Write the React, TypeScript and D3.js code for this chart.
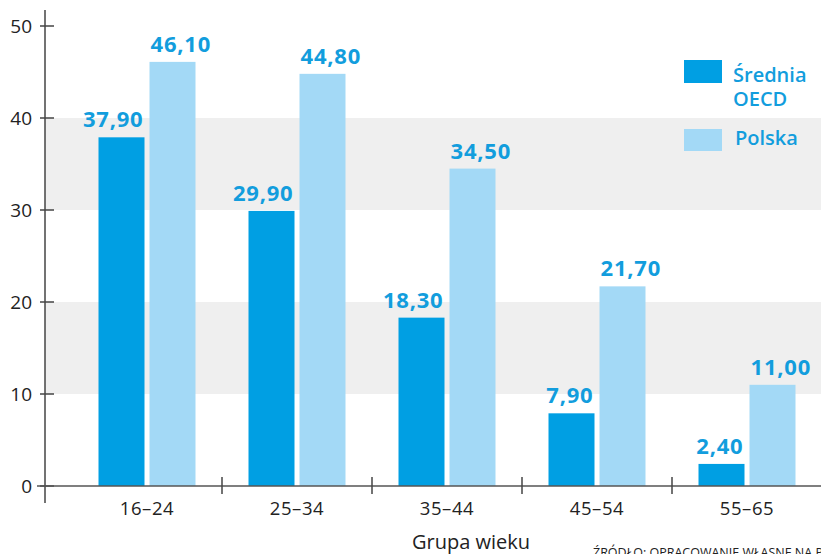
import React from "react";
import * as d3 from "d3";

const categories = ["16–24", "25–34", "35–44", "45–54", "55–65"];
const oecdValues = [37.9, 29.9, 18.3, 7.9, 2.4];
const polskaValues = [46.1, 44.8, 34.5, 21.7, 11.0];
const yTicks = [0, 10, 20, 30, 40, 50];
const seriesKeys = ["oecd", "pl"];
const seriesNames = ["Średnia OECD", "Polska"];

const W = 821;
const H = 554;
const DARK = "#009fe3";
const LIGHT = "#a3d9f6";
const LABEL = "#129ddd";
const FONT = "'Open Sans', 'Noto Sans', sans-serif";

export default function App() {
  const y = d3.scaleLinear().domain([0, 50]).range([486, 26]);
  const x0 = d3.scaleBand<string>().domain(categories).range([72, 822]).paddingInner(0).paddingOuter(0);
  const bw = 46;
  const gap = 5;
  const x1 = d3
    .scaleBand<string>()
    .domain(seriesKeys)
    .range([-(bw + gap / 2), bw + gap / 2])
    .paddingInner(gap / (bw + gap))
    .paddingOuter(0);
  const fmt = (v: number) => v.toFixed(2).replace(".", ",");
  const axisX = 45;
  const bands = [
    [30, 40],
    [10, 20],
  ];
  const boundaries = categories.slice(1).map((c) => x0(c)!);

  return (
    <svg
      width={W}
      height={H}
      style={{ position: "fixed", left: 0, top: 0, background: "#fff" }}
      fontFamily={FONT}
    >
      {bands.map(([a, b], i) => (
        <rect key={i} x={axisX} y={y(b)} width={W - axisX} height={y(a) - y(b)} fill="#efefef" />
      ))}
      {categories.map((c, i) => {
        const cx = x0(c)! + x0.bandwidth() / 2;
        const vals = [oecdValues[i], polskaValues[i]];
        return (
          <g key={c}>
            {seriesKeys.map((k, j) => {
              const bx = cx + x1(k)!;
              const v = vals[j];
              return (
                <g key={k}>
                  <rect
                    x={bx}
                    y={y(v)}
                    width={x1.bandwidth()}
                    height={y(0) - y(v)}
                    fill={j === 0 ? DARK : LIGHT}
                  />
                  <text
                    x={j === 0 ? bx + x1.bandwidth() - 1 : bx + 1}
                    y={y(v) - 10}
                    textAnchor={j === 0 ? "end" : "start"}
                    fontSize={22}
                    letterSpacing={0.8}
                    fontWeight={700}
                    fill={LABEL}
                  >
                    {fmt(v)}
                  </text>
                </g>
              );
            })}
            <text x={cx} y={515} textAnchor="middle" fontSize={18.5} fill="#222" letterSpacing={0.6}>
              {c}
            </text>
          </g>
        );
      })}
      {/* y axis */}
      <line x1={axisX} x2={axisX} y1={10} y2={503} stroke="#444" strokeWidth={1.5} />
      {yTicks.map((t) => (
        <g key={t}>
          <line x1={40} x2={54} y1={y(t)} y2={y(t)} stroke="#444" strokeWidth={1.5} />
          <text x={32} y={y(t) + 6.5} textAnchor="end" fontSize={19} fill="#222">
            {t}
          </text>
        </g>
      ))}
      {/* x axis */}
      <line x1={37} x2={W} y1={y(0)} y2={y(0)} stroke="#555" strokeWidth={1.5} />
      {boundaries.map((bx, i) => (
        <line key={i} x1={bx} x2={bx} y1={477} y2={494} stroke="#444" strokeWidth={1.5} />
      ))}
      <text x={471} y={549} textAnchor="middle" fontSize={20} fill="#222">
        Grupa wieku
      </text>
      <text x={593} y={557} fontSize={12.5} fill="#222">
        ŹRÓDŁO: OPRACOWANIE WŁASNE NA PODSTAWIE DANYCH OECD
      </text>
      {/* legend */}
      <rect x={684} y={60} width={38} height={23} fill={DARK} />
      <text x={733} y={82} fontSize={20} fontWeight={600} fill={LABEL}>
        Średnia
      </text>
      <text x={733} y={106} fontSize={20} fontWeight={600} fill={LABEL}>
        OECD
      </text>
      <rect x={684} y={129} width={38} height={22} fill={LIGHT} />
      <text x={735} y={145} fontSize={20} fontWeight={600} fill={LABEL}>
        {seriesNames[1]}
      </text>
    </svg>
  );
}
